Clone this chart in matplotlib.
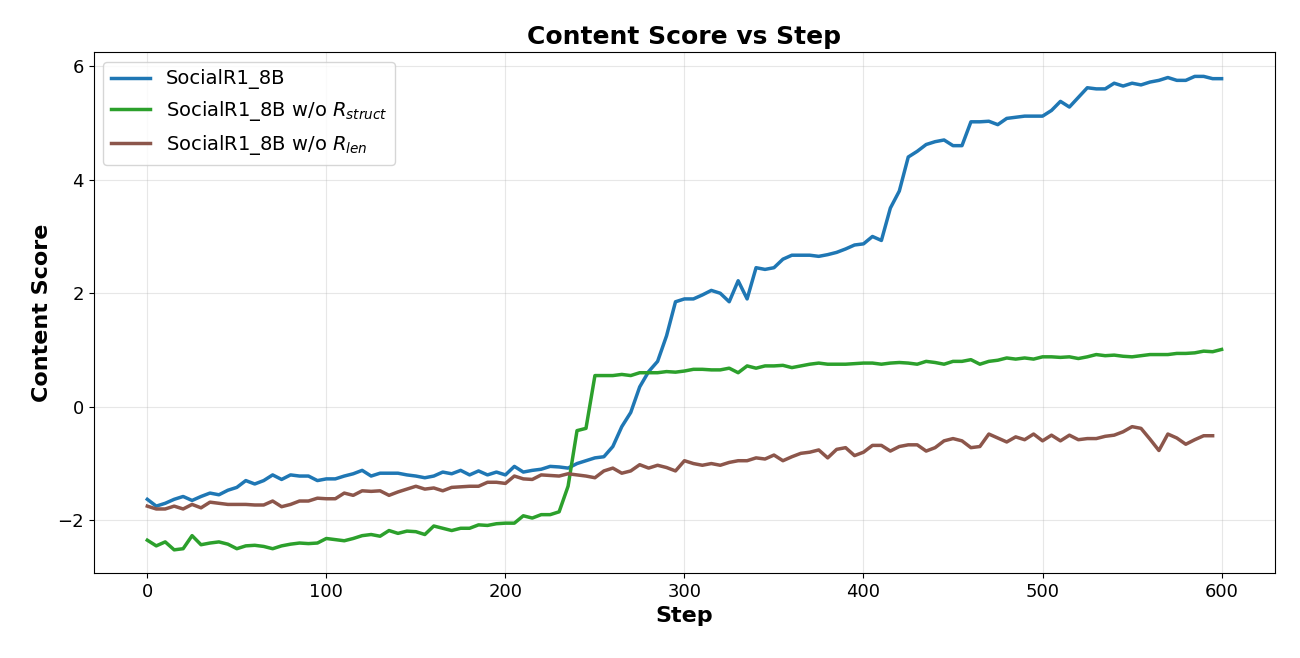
import matplotlib.pyplot as plt
import numpy as np

steps = np.arange(0, 601, 5)
steps_len = np.arange(0, 596, 5)

social = [-1.63, -1.75, -1.70, -1.63, -1.58, -1.65, -1.58, -1.52, -1.55, -1.47,
          -1.42, -1.30, -1.36, -1.30, -1.20, -1.28, -1.20, -1.22, -1.22, -1.30,
          -1.27, -1.27, -1.22, -1.18, -1.12, -1.22, -1.17, -1.17, -1.17, -1.20,
          -1.22, -1.25, -1.22, -1.15, -1.18, -1.12, -1.20, -1.13, -1.20, -1.15,
          -1.20, -1.05, -1.15, -1.12, -1.10, -1.05, -1.06, -1.08, -1.00, -0.95,
          -0.90, -0.88, -0.70, -0.35, -0.10, 0.35, 0.62, 0.80, 1.25, 1.85,
          1.90, 1.90, 1.97, 2.05, 2.00, 1.85, 2.22, 1.90, 2.45, 2.42,
          2.45, 2.60, 2.67, 2.67, 2.67, 2.65, 2.68, 2.72, 2.78, 2.85,
          2.87, 3.00, 2.93, 3.50, 3.80, 4.40, 4.50, 4.62, 4.67, 4.70,
          4.60, 4.60, 5.02, 5.02, 5.03, 4.97, 5.08, 5.10, 5.12, 5.12,
          5.12, 5.22, 5.38, 5.28, 5.45, 5.62, 5.60, 5.60, 5.70, 5.65,
          5.70, 5.67, 5.72, 5.75, 5.80, 5.75, 5.75, 5.82, 5.82, 5.78, 5.78]

no_struct = [-2.35, -2.45, -2.38, -2.52, -2.50, -2.27, -2.43, -2.40, -2.38, -2.42,
             -2.50, -2.45, -2.44, -2.46, -2.50, -2.45, -2.42, -2.40, -2.41, -2.40,
             -2.32, -2.34, -2.36, -2.32, -2.27, -2.25, -2.28, -2.18, -2.23, -2.19,
             -2.20, -2.25, -2.10, -2.14, -2.18, -2.14, -2.14, -2.08, -2.09, -2.06,
             -2.05, -2.05, -1.92, -1.96, -1.90, -1.90, -1.85, -1.40, -0.42, -0.38,
             0.55, 0.55, 0.55, 0.57, 0.55, 0.60, 0.60, 0.60, 0.62, 0.61,
             0.63, 0.66, 0.66, 0.65, 0.65, 0.68, 0.60, 0.72, 0.68, 0.72,
             0.72, 0.73, 0.69, 0.72, 0.75, 0.77, 0.75, 0.75, 0.75, 0.76,
             0.77, 0.77, 0.75, 0.77, 0.78, 0.77, 0.75, 0.80, 0.78, 0.75,
             0.80, 0.80, 0.83, 0.75, 0.80, 0.82, 0.86, 0.84, 0.86, 0.84,
             0.88, 0.88, 0.87, 0.88, 0.85, 0.88, 0.92, 0.90, 0.91, 0.89,
             0.88, 0.90, 0.92, 0.92, 0.92, 0.94, 0.94, 0.95, 0.98, 0.97, 1.01]

no_len = [-1.75, -1.80, -1.80, -1.75, -1.80, -1.72, -1.78, -1.68, -1.70, -1.72,
          -1.72, -1.72, -1.73, -1.73, -1.66, -1.76, -1.72, -1.66, -1.66, -1.61,
          -1.62, -1.62, -1.52, -1.56, -1.48, -1.49, -1.48, -1.56, -1.50, -1.45,
          -1.40, -1.45, -1.43, -1.48, -1.42, -1.41, -1.40, -1.40, -1.33, -1.33,
          -1.35, -1.22, -1.27, -1.28, -1.20, -1.21, -1.22, -1.18, -1.20, -1.22,
          -1.25, -1.13, -1.08, -1.17, -1.13, -1.02, -1.08, -1.03, -1.07, -1.13,
          -0.95, -1.00, -1.03, -1.00, -1.03, -0.98, -0.95, -0.95, -0.90, -0.92,
          -0.85, -0.95, -0.88, -0.82, -0.80, -0.76, -0.90, -0.75, -0.72, -0.86,
          -0.80, -0.68, -0.68, -0.78, -0.70, -0.67, -0.67, -0.78, -0.72, -0.60,
          -0.56, -0.60, -0.72, -0.70, -0.48, -0.55, -0.62, -0.53, -0.58, -0.48,
          -0.60, -0.50, -0.60, -0.50, -0.58, -0.56, -0.56, -0.52, -0.50, -0.44,
          -0.35, -0.38, -0.57, -0.77, -0.48, -0.55, -0.66, -0.58, -0.51, -0.51]

fig, ax = plt.subplots(figsize=(13, 6.58), dpi=100)
ax.plot(steps, social, color="#1f77b4", lw=2.5, label="SocialR1_8B")
ax.plot(steps, no_struct, color="#2ca02c", lw=2.5, label=r"SocialR1_8B w/o $R_{struct}$")
ax.plot(steps_len, no_len, color="#8c564b", lw=2.5, label=r"SocialR1_8B w/o $R_{len}$")

ax.set_xlim(-30, 630)
ax.set_ylim(-2.93, 6.25)
ax.grid(True, alpha=0.3)
ax.tick_params(labelsize=13)
ax.set_xlabel("Step", fontsize=16, fontweight="bold")
ax.set_ylabel("Content Score", fontsize=16, fontweight="bold")
ax.set_title("Content Score vs Step", fontsize=18, fontweight="bold")
ax.legend(loc="upper left", fontsize=14)
plt.subplots_adjust(left=0.072, right=0.981, top=0.921, bottom=0.129)
plt.savefig("out.png")
